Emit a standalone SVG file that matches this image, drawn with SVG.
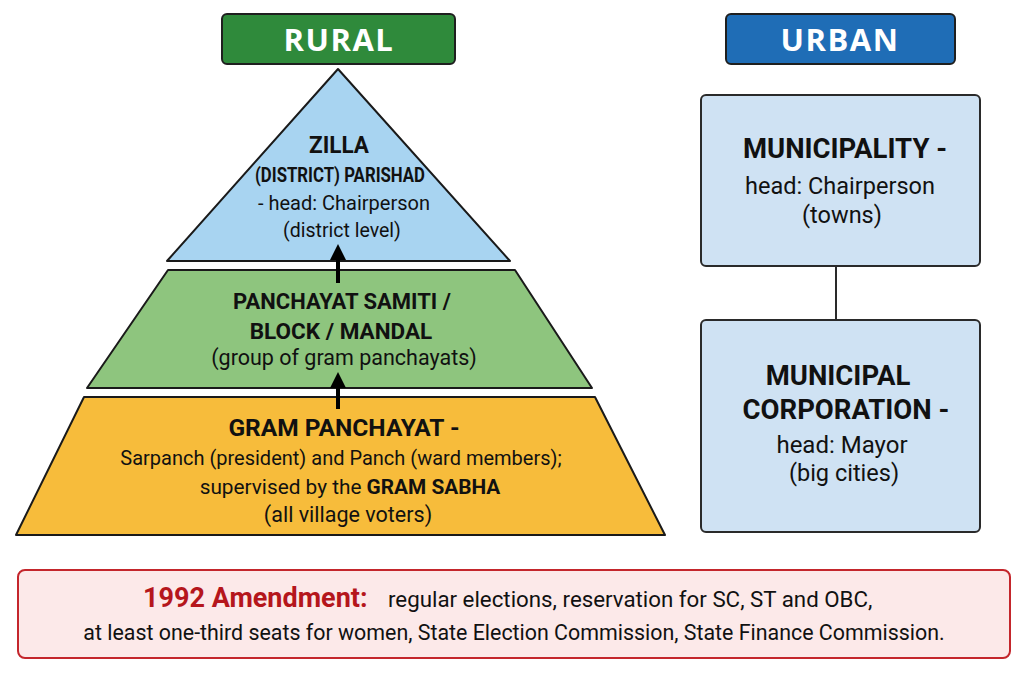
<svg xmlns="http://www.w3.org/2000/svg" width="1024" height="683" viewBox="0 0 1024 683">
<defs>
<style>
.t{font-family:Roboto,"Liberation Sans",sans-serif;fill:#111;text-anchor:middle}
.b{font-weight:bold}
.hdr{font-family:"Open Sans","Liberation Sans",sans-serif;font-weight:bold;fill:#fff;font-size:31px;text-anchor:middle;letter-spacing:1.5px}
.shape{stroke:#1a1a1a;stroke-width:2;stroke-linejoin:round}
.ubox{fill:#cfe2f3;stroke:#2a2a2a;stroke-width:2}
</style>
<marker id="ah" markerWidth="4" markerHeight="4" refX="2" refY="2" orient="auto" markerUnits="strokeWidth">
<path d="M0,0 L4,2 L0,4 z" fill="#000"/>
</marker>
</defs>
<rect width="1024" height="683" fill="#fff"/>

<g id="rural-header">
<rect x="222" y="14" width="233" height="50" rx="5" fill="#2f8a3b" stroke="#1f1f1f" stroke-width="2"/>
<text class="hdr" x="339" y="51">RURAL</text>
</g>

<g id="zilla-parishad">
<path class="shape" d="M338,69 L510,261 L167,261 Z" fill="#a8d4f1"/>
<text class="t b" x="339" y="153" font-size="24" textLength="60" lengthAdjust="spacingAndGlyphs">ZILLA</text>
<text class="t b" x="340" y="182" font-size="19.5" textLength="170" lengthAdjust="spacingAndGlyphs">(DISTRICT) PARISHAD</text>
<text class="t" x="344" y="210" font-size="20">- head: Chairperson</text>
<text class="t" x="342" y="237" font-size="19.5">(district level)</text>
</g>

<g id="panchayat-samiti">
<path class="shape" d="M168,270 L515,270 L592,388 L87,388 Z" fill="#8ec57e"/>
<text class="t b" x="342" y="309" font-size="22">PANCHAYAT SAMITI /</text>
<text class="t b" x="341" y="339" font-size="22.5">BLOCK / MANDAL</text>
<text class="t" x="344" y="365" font-size="21.5">(group of gram panchayats)</text>
</g>

<g id="gram-panchayat">
<path class="shape" d="M84,397 L595,397 L665,535 L16,535 Z" fill="#f7bc3b"/>
<text class="t b" x="344" y="436" font-size="24.5">GRAM PANCHAYAT -</text>
<text class="t" x="341" y="465" font-size="20">Sarpanch (president) and Panch (ward members);</text>
<text class="t" x="350" y="494" font-size="20.8">supervised by the <tspan font-weight="bold">GRAM SABHA</tspan></text>
<text class="t" x="348" y="522" font-size="21.5">(all village voters)</text>
</g>

<g id="urban-header">
<rect x="726" y="14" width="229" height="50" rx="5" fill="#1f6db6" stroke="#1f1f1f" stroke-width="2"/>
<text class="hdr" x="840" y="51">URBAN</text>
</g>

<g id="municipality">
<rect class="ubox" x="701" y="95" width="279" height="171" rx="5"/>
<text class="t b" x="845" y="158" font-size="27.5">MUNICIPALITY -</text>
<text class="t" x="840" y="194" font-size="23.5">head: Chairperson</text>
<text class="t" x="842" y="223" font-size="23.5">(towns)</text>
</g>

<g id="municipal-corporation">
<rect class="ubox" x="701" y="320" width="279" height="212" rx="5"/>
<text class="t b" x="838" y="385" font-size="27.5">MUNICIPAL</text>
<text class="t b" x="846" y="419" font-size="27.5">CORPORATION -</text>
<text class="t" x="842" y="453" font-size="24">head: Mayor</text>
<text class="t" x="844" y="481" font-size="23.5">(big cities)</text>
</g>

<g id="connectors">
<line x1="338" y1="283" x2="338" y2="252" stroke="#000" stroke-width="4" marker-end="url(#ah)"/>
<line x1="338" y1="409" x2="338" y2="380" stroke="#000" stroke-width="4" marker-end="url(#ah)"/>
<line x1="836" y1="266" x2="836" y2="320" stroke="#2a2a2a" stroke-width="2"/>
</g>

<g id="amendment">
<rect x="18" y="570" width="992" height="88" rx="7" fill="#fce9e9" stroke="#c4262c" stroke-width="2"/>
<text x="143" y="607" font-family="Roboto,'Liberation Sans',sans-serif" font-size="27" font-weight="bold" fill="#b5161c">1992 Amendment:</text>
<text x="388" y="607" font-family="Roboto,'Liberation Sans',sans-serif" font-size="22.3" fill="#111">regular elections, reservation for SC, ST and OBC,</text>
<text class="t" x="514" y="640" font-size="21.4">at least one-third seats for women, State Election Commission, State Finance Commission.</text>
</g>
</svg>
